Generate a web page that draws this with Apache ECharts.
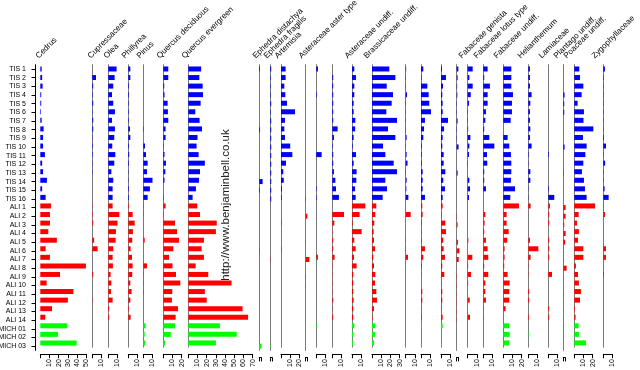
<!DOCTYPE html>
<html><head><meta charset="utf-8">
<script src="https://cdn.jsdelivr.net/npm/echarts@6/dist/echarts.min.js"></script>
<style>html,body{margin:0;padding:0;background:#fff}#c{width:640px;height:370px}</style>
</head><body><div id="c"></div>
<script>
// ---------- DATA ----------
const samples = ['TIS 1','TIS 2','TIS 3','TIS 4','TIS 5','TIS 6','TIS 7','TIS 8','TIS 9','TIS 10','TIS 11','TIS 12','TIS 13','TIS 14','TIS 15','TIS 16',
  'ALI 1','ALI 2','ALI 3','ALI 4','ALI 5','ALI 6','ALI 7','ALI 8','ALI 9','ALI 10','ALI 11','ALI 12','ALI 13','ALI 14',
  'MICH 01','MICH 02','MICH 03'];

const cedrus      = [1.5,2,2.5,1,1,0.7,1.5,3.6,3,3,5,2,3,7.2,2,5.8, 11.6,10.5,10.5,8.7,18,5.8,10.5,49.6,21.4,6.9,36,30,12.7,5.4, 29,19.2,39.5];
const cupressaceae= [0,4,1,0.5,1,0.3,1,1,0.3,0.5,0.5,0.3,0.3,0,0,0, 0.3,0.5,1,0,2,5.8,0,0,1,0,0,0.3,0,0, 0,0,0];
const olea        = [9,6.9,5.4,4,5.4,7.2,4,7.2,6.5,4.3,7.6,6.5,3.3,5.4,4.7,4.7, 4.7,12,10,8.3,8,5.4,4.7,5,2.5,3.3,2.9,4.7,1,1, 0,0,0];
const phillyrea   = [2.2,2.2,0.7,0.7,0.5,0.5,0.5,1.8,2.2,0.7,1,0.7,0.3,0.3,0.7,0.7, 0.7,4.7,6.9,5,4.3,2.5,4,4.7,4.3,2.2,3.6,2.2,0.7,2.5, 0,0,0];
const pinus       = [0,0,0,0,0,0,0,0.4,0,1.8,2.9,4.7,4,10,7.2,4.7, 0.3,0.3,0,0,1.5,0,0,4,0.3,0.3,0.3,0,0,0, 2.5,1.5,2];
const quercusDec  = [5.4,5.4,1,1.3,4.7,5,5.4,2.5,2.5,0.3,1.3,2.9,2.2,1.3,0,0.3, 2.5,0.3,12.7,14.9,17,10.9,6.2,10,13.8,18.5,9.8,9.4,16,13.4, 12.7,8,1.8];
const quercusEver = [14,12,15.6,16,13.4,7.6,12.3,14.9,10,9,11.2,18,12.7,11.6,8.3,4.7, 9.8,12.7,30.9,30,17,14.5,17,8,21.7,47,18,20,59,65, 34.4,52.6,30];
const ephedraDist = [0.7,0,0,0,0,0,0,0.8,0,0,0,0,0,3.6,0.7,0, 0,0,0,0,0,0.5,0,0,0,0,0,0,0,0, 0,0,2.5];
const ephedraFrag = [1,0.5,0.5,0.5,1,0.5,1,1,1,1,1,1,1,1,1,1, 0,0,0,0,0,0,0.3,0,0,0,0,0,0,0, 0,0,0.3];
const artemisia   = [5,5,3.6,4.7,6.5,15.2,4.3,3.6,4.3,10,12.3,5.4,2.5,3,1,0.7, 0,0,0.5,0,0,0.5,0,0,0,0,0,0,0,0, 0,0,0];
const asterAster  = [0,0,0,0,0,0,0,0,0,0,0,0,0,0,0,0.3, 0,1.8,0,0,0.3,0,4,0,0.3,0.3,0,0,0,0, 0,0,0];
const unnamedA    = [1.8,0,0,0.7,0,0,0,0,0,0,5.8,0,0,0,0.5,0.5, 0,0,0,0,0,0,1.8,0,0,0,0,0,0,0, 0.5,0,0];
const unnamedB    = [0,1,1,1,1,1,1,5.8,1.8,0.5,1,1,1.8,3.3,4,7.2, 0,12.7,2.2,0.3,1,1,2.5,0.3,0.3,0.3,0.3,1,0.3,1, 0,0,0];
const asterUndiff = [2.5,4.3,2.5,2.5,1.8,1.8,3.6,3.4,1.8,0.7,4.3,1.8,5,4.7,3.3,4, 14.5,8.3,0.7,10.5,2.5,4,2.2,5,1.4,1.4,1.4,1.8,1.4,1.4, 2.5,1.4,1];
const brassica    = [18.8,25.4,16,22.8,21.4,15.6,27.2,17.4,25.4,12,14.5,23.6,27.2,14.5,16.3,11.6, 4.7,3.6,2.5,1.8,2.2,3.3,1.4,2.2,3.6,3.3,4.7,5.4,2.2,0.5, 3.6,3.3,2.2];
const unnamedC    = [0.5,0.3,0.3,1.4,0.3,0.3,0.3,0.3,1,0.3,1,2,0.3,1,0.7,2.9, 0,5.4,0,0,0.3,0.3,2.5,0,0,0,0,0,0,0, 0,0,0];
const unnamedD    = [2.5,0.5,6.9,8.3,9,10.9,4.3,3.3,2.5,0.7,0.7,0.7,1.8,1.8,1.8,4.3, 1.4,1.8,0.7,0.5,0.7,4.3,2.5,0.7,0.3,0,1.4,1.4,0.3,0.7, 0.5,0.3,0.3];
const unnamedE    = [1,5.4,2.2,1.4,1.8,1.8,7.6,3.3,1.8,1.4,2.9,2.9,4.7,2.5,4.3,1.8, 1.8,0.5,4.7,5.4,2.5,2.9,4.3,1.4,3.6,0.3,1.4,1.4,0.5,1.8, 1.8,0.3,0.3];
const unnamedF    = [1.8,1,0.5,0.7,0.3,0.3,1,0.3,0.3,2,0,0,1,0,0,0, 0,0.3,1,0,1.4,2.9,2.2,0,0.3,0.3,0.3,0.3,0.3,0.3, 0,0,0];
const fabGenista  = [5.4,1.8,5.4,3.3,1.4,0.3,0.3,0.5,2.9,1.8,1.4,0.3,0,1.8,2.5,1.4, 0,0,0,0,0.7,0,5,0.5,3.6,0.5,0,2.2,0,2.5, 0,0,0];
const fabLotus    = [4.7,1,7.2,4.7,4.7,2.9,2.2,1,6.5,12,4,4.3,1,1,2.9,0, 0,2.2,1.4,1,2.9,4.7,5.4,1,5.4,2.2,2.2,2.9,0.3,0.3, 0,0,0];
const fabUndiff   = [8.7,8.7,8.7,10.5,9.4,9.4,8,0,4.7,6.5,8.3,8.7,8.7,8.3,12.7,7.6, 17,3.6,3.6,5.8,4.3,1.4,1.4,1,4.7,6.9,6.5,6.5,2.5,0, 6.5,6.9,6.5];
const helianth    = [1.8,1.8,1.8,3.6,2.2,1.8,1.8,2.2,1.8,3.6,0.5,0.3,2.2,2.2,0.3,0.3, 2.5,0,0,0,1.8,10.9,2.5,0.3,0.3,0,1,1,0,0.7, 0,0.5,0];
const lamiaceae   = [0,0,0,0,0,0,0,0,0,0,0.7,0,0,0,0.7,6.5, 1.8,1,1,0,1,1,1,0,4,0,0,0,1,1, 0,0,0];
const plantago    = [0,0,0,1.4,1,1,0,0,0,1.4,0,0,0.3,0,0,0, 2.5,2.5,1,2.5,2,0.3,0.3,3.6,0,0,0.3,0,0,0, 0,0,0];
const poaceae     = [5.4,6.2,9.8,8,3.6,10.5,10,20.7,9.4,13.4,12,9.8,8.3,10.5,11.6,13.4, 22.5,4.7,2.9,5,4,9.8,9.8,1.8,4,5,7.2,6.2,0.7,1.4, 4.7,5,12.7];
const zygophyll   = [1.8,0.5,0.3,0.3,0.3,0.3,0.3,0.3,0.7,2.9,0.3,2,0.3,0.3,1.4,5.8, 0.3,1.8,0,0,0,2.9,2.9,0,0.7,0,0,0,0,0, 0,0,0];

const columns = [cedrus,cupressaceae,olea,phillyrea,pinus,quercusDec,quercusEver,ephedraDist,ephedraFrag,artemisia,asterAster,
  unnamedA,unnamedB,asterUndiff,brassica,unnamedC,unnamedD,unnamedE,unnamedF,fabGenista,fabLotus,fabUndiff,helianth,lamiaceae,plantago,poaceae,zygophyll];
// axis extent (last tick) per column; 0 = stub axis
const axisTop = [50,10,10,10,10,20,70,0,0,20,0,10,10,10,30,10,10,10,0,10,10,20,10,10,0,20,10];

const taxonLabels = ['Cedrus','Cupressaceae','Olea','Phillyrea','Pinus','Quercus deciduous','Quercus evergreen',
  'Ephedra distachya','Ephedra fragilis','Artemisia','Asteraceae aster type','Asteraceae undiff.','Brassicaceae undiff.',
  'Fabaceae genista','Fabaceae lotus type','Fabaceae undiff.','Helianthemum','Lamiaceae','Plantago undiff.','Poaceae undiff.','Zygophyllaceae'];
const watermark = 'http://www.benjaminbell.co.uk';

// ---------- LAYOUT ----------
const colX = [40.3,92.3,108.3,128.3,143.3,163.3,188.3,259.3,270.3,281,305.7,316.3,332.3,352,372,405.7,421,441,456.7,467.7,483.3,503.3,528.3,548.3,563.3,574.3,603.3];
const labelX = [40,92,108,126,141,161,186,257,268,279,303,349,368,463,478,498,522,543,558,568,596];
const PX = 0.92;
const TOP = 64.7, H = 285.7;
const FONT = '"Liberation Sans", Arial, sans-serif';

const grid = [], xAxis = [], yAxis = [], series = [];
columns.forEach((vals, i) => {
  const top = axisTop[i] || 2;
  grid.push({left: colX[i], top: TOP, width: top * PX, height: H, containLabel: false});
  xAxis.push({
    type: 'value', gridIndex: i, min: 0, max: top, interval: 10, position: 'bottom', offset: 7,
    axisLine: {show: true, onZero: false, lineStyle: {color: '#000', width: 1}},
    axisTick: {show: true, length: 4, lineStyle: {color: '#000'}},
    splitLine: {show: false},
    axisLabel: {rotate: 90, fontSize: 7, color: '#000', margin: 5, fontFamily: FONT,
      formatter: v => (v > 0 && v % 10 === 0) ? String(v) : ''}
  });
  yAxis.push({type: 'category', gridIndex: i, data: samples, inverse: true,
    axisLine: {show: i > 0, onZero: false, lineStyle: {color: '#7a7a7a', width: 1}},
    axisTick: {show: false}, axisLabel: {show: false}});
  series.push({type: 'bar', xAxisIndex: i, yAxisIndex: i, data: vals, barWidth: 5, clip: false, silent: true,
    itemStyle: {color: p => p.dataIndex < 16 ? '#0000ff' : (p.dataIndex < 30 ? '#ff0000' : '#00ff00')}});
});
// sample axis (left)
const n = columns.length;
grid.push({left: 34.5, top: TOP, width: 1, height: H, containLabel: false});
xAxis.push({type: 'value', gridIndex: n, min: 0, max: 1, show: false});
yAxis.push({type: 'category', gridIndex: n, data: samples, inverse: true,
  axisLine: {show: true, onZero: false, lineStyle: {color: '#000'}},
  axisTick: {show: true, alignWithLabel: true, length: 4, lineStyle: {color: '#000'}},
  axisLabel: {fontSize: 7, color: '#000', margin: 9.5, fontFamily: FONT, interval: 0}});

const graphic = taxonLabels.map((t, k) => ({
  type: 'text', x: labelX[k], y: 60, rotation: Math.PI / 4, silent: true,
  style: {text: t, font: '8.1px ' + FONT, fill: '#000', textAlign: 'left', textVerticalAlign: 'bottom'}
}));
graphic.push({type: 'text', x: 226, y: 205, rotation: Math.PI / 2, silent: true,
  style: {text: watermark, font: '11.5px ' + FONT, fill: '#222', textAlign: 'center', textVerticalAlign: 'middle'}});

const chart = echarts.init(document.getElementById('c'), null, {renderer: 'canvas'});
chart.setOption({animation: false, backgroundColor: '#fff', grid, xAxis, yAxis, series, graphic});
</script></body></html>
